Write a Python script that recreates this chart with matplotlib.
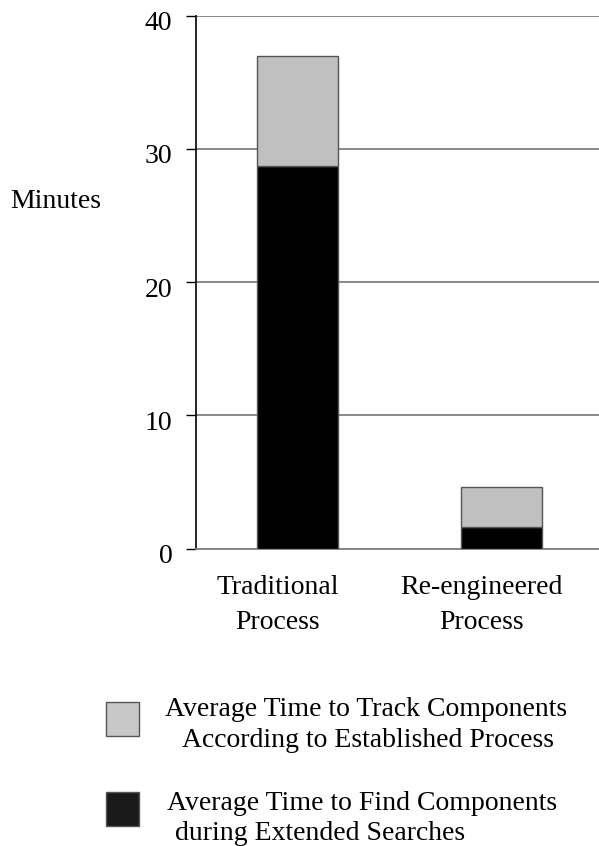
import matplotlib.pyplot as plt
import matplotlib.transforms as mtransforms
from matplotlib.patches import Rectangle

plt.rcParams['font.family'] = ['Liberation Serif', 'DejaVu Serif']

categories = ['Traditional\nProcess', 'Re-engineered\nProcess']
find_time = [28.7, 1.65]    # black, bottom
track_time = [8.25, 2.95]   # grey, stacked on top
legend_lines = [['Average Time to Track Components', 'According to Established Process'],
                ['Average Time to Find Components', 'during Extended Searches']]

W, H = 599, 846
fig = plt.figure(figsize=(W / 100, H / 100), dpi=100)
ax = fig.add_axes([196 / W, 1 - 548.7 / H, 1 - 196 / W, (548.7 - 15.7) / H])

x = range(len(categories))
ax.bar(x, find_time, width=0.40, color='black', edgecolor='#555555', linewidth=1.0, zorder=3)
ax.bar(x, track_time, bottom=find_time, width=0.40, color='#c0c0c0',
       edgecolor='#555555', linewidth=1.0, zorder=3)

ax.set_xlim(-0.5, 1.48)
ax.set_ylim(0, 40)
ax.set_yticks([0, 10, 20, 30, 40])
ax.yaxis.grid(True, color='#808080', linewidth=1.3)
ax.set_axisbelow(True)

for s in ['top', 'right']:
    ax.spines[s].set_visible(False)
ax.spines['left'].set_color('black')
ax.spines['left'].set_linewidth(1.2)
ax.spines['bottom'].set_color('#808080')
ax.spines['bottom'].set_linewidth(1.3)

ax.tick_params(axis='y', length=7, width=1.0, color='black', pad=10, labelsize=20)
ax.tick_params(axis='x', length=0, pad=19, labelsize=20)
ax.set_xticks(list(x))
ax.set_xticklabels(categories, linespacing=1.5)
xshift = mtransforms.ScaledTranslation(-20 / 100, 0, fig.dpi_scale_trans)
for lbl in ax.get_xticklabels():
    lbl.set_transform(lbl.get_transform() + xshift)
yshift = mtransforms.ScaledTranslation(0, -5 / 100, fig.dpi_scale_trans)
for lbl in ax.get_yticklabels():
    lbl.set_transform(lbl.get_transform() + yshift)

fig.text(10 / W, 1 - 208 / H, 'Minutes', fontsize=20, va='baseline', ha='left')

# legend drawn by hand
boxes = [(106, 702, '#c8c8c8'), (106, 792, '#1a1a1a')]
line_pos = [[(165, 716), (182, 747)], [(167, 810), (175, 840)]]
for (bx, by, col), lines, pos in zip(boxes, legend_lines, line_pos):
    fig.add_artist(Rectangle((bx / W, 1 - (by + 34) / H), 33 / W, 34 / H,
                             transform=fig.transFigure, facecolor=col,
                             edgecolor='#555555', linewidth=1.0))
    for txt, (tx, ty) in zip(lines, pos):
        fig.text(tx / W, 1 - ty / H, txt, fontsize=20, ha='left', va='baseline')

fig.savefig('out.png', dpi=100)
